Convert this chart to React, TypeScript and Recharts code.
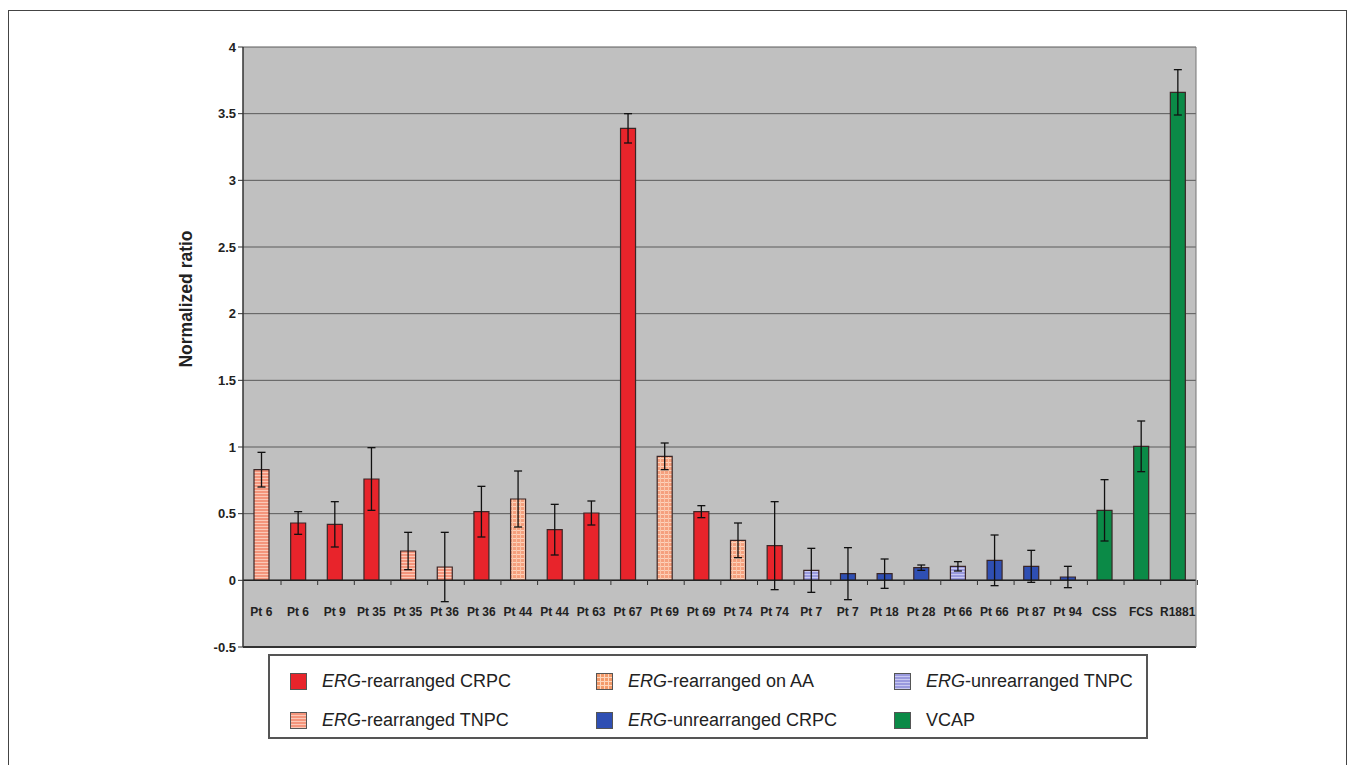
import React from 'react'
import { BarChart, Bar, Cell, XAxis, YAxis, CartesianGrid, ErrorBar, ReferenceLine } from 'recharts'

const labels = ['Pt 6', 'Pt 6', 'Pt 9', 'Pt 35', 'Pt 35', 'Pt 36', 'Pt 36', 'Pt 44', 'Pt 44', 'Pt 63', 'Pt 67', 'Pt 69', 'Pt 69', 'Pt 74', 'Pt 74', 'Pt 7', 'Pt 7', 'Pt 18', 'Pt 28', 'Pt 66', 'Pt 66', 'Pt 87', 'Pt 94', 'CSS', 'FCS', 'R1881']
const values = [0.83, 0.43, 0.42, 0.76, 0.22, 0.1, 0.515, 0.61, 0.38, 0.505, 3.39, 0.93, 0.515, 0.3, 0.26, 0.075, 0.05, 0.05, 0.095, 0.105, 0.15, 0.105, 0.025, 0.525, 1.005, 3.66]
const errors = [0.13, 0.085, 0.17, 0.235, 0.14, 0.26, 0.19, 0.21, 0.19, 0.09, 0.11, 0.1, 0.045, 0.13, 0.33, 0.165, 0.195, 0.11, 0.02, 0.035, 0.19, 0.12, 0.08, 0.23, 0.19, 0.17]
const groups = ['tnpc', 'crpc', 'crpc', 'crpc', 'tnpc', 'tnpc', 'crpc', 'aa', 'crpc', 'crpc', 'crpc', 'aa', 'crpc', 'aa', 'crpc', 'utnpc', 'ucrpc', 'ucrpc', 'ucrpc', 'utnpc', 'ucrpc', 'ucrpc', 'ucrpc', 'vcap', 'vcap', 'vcap']
const yTicks = [-0.5, 0, 0.5, 1, 1.5, 2, 2.5, 3, 3.5, 4]

const legendItems = [
  { key: 'crpc', erg: true, text: '-rearranged CRPC' },
  { key: 'aa', erg: true, text: '-rearranged on AA' },
  { key: 'utnpc', erg: true, text: '-unrearranged TNPC' },
  { key: 'tnpc', erg: true, text: '-rearranged TNPC' },
  { key: 'ucrpc', erg: true, text: '-unrearranged CRPC' },
  { key: 'vcap', erg: false, text: 'VCAP' },
]

const fills: Record<string, string> = {
  crpc: '#e8242b',
  tnpc: 'url(#tnpc)',
  aa: 'url(#aa)',
  utnpc: 'url(#utnpc)',
  ucrpc: '#2f4fb3',
  vcap: '#0b8a47',
}

const legendBg: Record<string, string> = {
  crpc: '#e8242b',
  tnpc: 'repeating-linear-gradient(180deg, #f4957c 0px, #f4957c 2px, #fbc9b8 2px, #fbc9b8 3px)',
  aa: 'repeating-linear-gradient(180deg, transparent 0px, transparent 3px, #fcd6bd 3px, #fcd6bd 4px), repeating-linear-gradient(90deg, #f39a6a 0px, #f39a6a 3px, #fcd6bd 3px, #fcd6bd 4px)',
  utnpc: 'repeating-linear-gradient(180deg, #9a9ade 0px, #9a9ade 2px, #c9c9f1 2px, #c9c9f1 3px)',
  ucrpc: '#2f4fb3',
  vcap: '#0b8a47',
}

const data = labels.map((label, i) => ({ idx: i, label, value: values[i], err: errors[i], group: groups[i] }))

const FONT = '"Liberation Sans", Arial, sans-serif'
const W = 1337
const H = 660
const M = { top: 36, right: 149, left: 164, bottom: 0 }
const BAND = (W - M.left - M.right) / labels.length

function CatTick(props: any) {
  const { x, y, payload } = props
  return (
    <g>
      <line x1={x + BAND / 2} x2={x + BAND / 2} y1={y - 75} y2={y - 70} stroke="#333" />
      <text x={x} y={y} dy={-39} textAnchor="middle" fontFamily={FONT} fontSize={12} fontWeight="bold" fill="#222">
        {labels[payload.value]}
      </text>
    </g>
  )
}

export default function App() {
  return (
    <div style={{ position: 'relative', width: 1337, height: 760, marginTop: 2, border: '1px solid #444', borderBottom: 'none', fontFamily: FONT }}>
      <BarChart width={W} height={H} data={data} margin={M} barSize={15}>
        <defs>
          <pattern id="tnpc" width="6" height="3" patternUnits="userSpaceOnUse">
            <rect width="6" height="3" fill="#f4957c" />
            <rect y="2" width="6" height="1" fill="#fbc9b8" />
          </pattern>
          <pattern id="aa" width="4" height="4" patternUnits="userSpaceOnUse">
            <rect width="4" height="4" fill="#f5a07e" />
            <rect y="3" width="4" height="1" fill="#fcd3bd" />
            <rect x="3" width="1" height="4" fill="#fbc4a8" />
          </pattern>
          <pattern id="utnpc" width="6" height="3" patternUnits="userSpaceOnUse">
            <rect width="6" height="3" fill="#9a9ade" />
            <rect y="2" width="6" height="1" fill="#c9c9f1" />
          </pattern>
        </defs>
        <CartesianGrid vertical={false} stroke="#5a5a5a" fill="#c0c0c0" />
        <XAxis dataKey="idx" type="category" tick={<CatTick />} tickLine={false} axisLine={{ stroke: '#333', strokeWidth: 2 }} height={24} interval={0} />
        <YAxis
          domain={[-0.5, 4]}
          ticks={yTicks}
          width={70}
          interval={0}
          tick={{ fontFamily: FONT, fontSize: 13, fontWeight: 'bold', fill: '#222' }}
          tickLine={{ stroke: '#333' }}
          tickSize={5}
          axisLine={{ stroke: '#333', strokeWidth: 1.5 }}
        />
        <YAxis yAxisId="r" orientation="right" domain={[-0.5, 4]} tick={false} tickLine={false} width={1} axisLine={{ stroke: '#777' }} />
        <ReferenceLine y={0} stroke="#222" strokeWidth={1.5} />
        <Bar dataKey="value" stroke="#3a2626" strokeWidth={1.2} isAnimationActive={false}>
          {data.map((d, i) => (
            <Cell key={i} fill={fills[d.group]} />
          ))}
          <ErrorBar dataKey="err" width={4} stroke="#111" strokeWidth={1.3} direction="y" isAnimationActive={false} />
        </Bar>
      </BarChart>
      <div style={{ position: 'absolute', left: 177 - 90, top: 288 - 11, width: 180, height: 22, transform: 'rotate(-90deg)', textAlign: 'center', fontSize: 17.5, fontWeight: 'bold', color: '#222', lineHeight: '22px' }}>
        Normalized ratio
      </div>
      <div style={{ position: 'absolute', left: 259, top: 643, width: 880, height: 85, border: '2px solid #555', background: '#fff', boxSizing: 'border-box' }}>
        {legendItems.map((it, i) => {
          const col = i % 3
          const row = Math.floor(i / 3)
          return (
            <div key={i} style={{ position: 'absolute', left: [20, 326, 624][col], top: [25, 64][row] - 12, height: 24, display: 'flex', alignItems: 'center', whiteSpace: 'nowrap' }}>
              <span style={{ display: 'inline-block', width: 17, height: 17, background: legendBg[it.key], border: '1px solid #555', boxSizing: 'border-box', marginRight: 15 }} />
              <span style={{ fontSize: 18, color: '#222' }}>
                {it.erg && <i>ERG</i>}
                {it.text}
              </span>
            </div>
          )
        })}
      </div>
    </div>
  )
}
